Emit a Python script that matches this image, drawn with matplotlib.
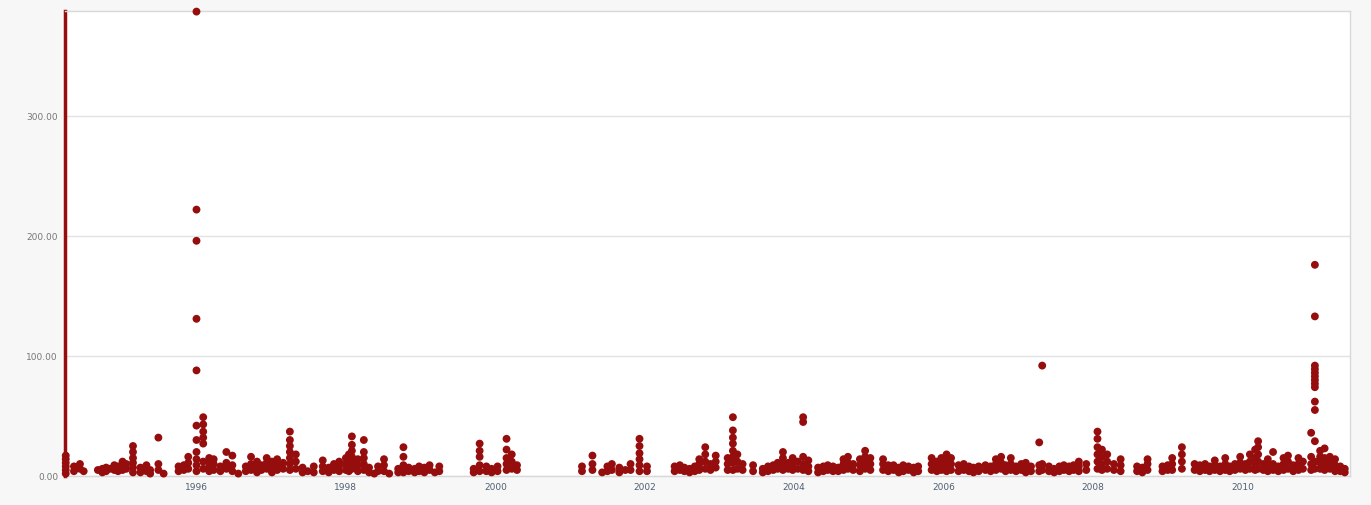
import matplotlib
matplotlib.use('Agg')
import matplotlib.pyplot as plt
import numpy as np

# decimal year of each column of observations, and the values stacked in it
col_year = [1994.25, 1994.36, 1994.44, 1994.49, 1994.68, 1994.74, 1994.79, 1994.84, 1994.90, 1994.95,
            1995.01, 1995.06, 1995.15, 1995.25, 1995.33, 1995.38, 1995.49, 1995.56, 1995.76, 1995.83,
            1995.89, 1996.00, 1996.09, 1996.17, 1996.23, 1996.32, 1996.40, 1996.48, 1996.56, 1996.66,
            1996.73, 1996.81, 1996.87, 1996.94, 1997.01, 1997.08, 1997.16, 1997.25, 1997.33, 1997.42,
            1997.49, 1997.57, 1997.69, 1997.77, 1997.84, 1997.91, 1998.00, 1998.04, 1998.08, 1998.16,
            1998.24, 1998.31, 1998.38, 1998.43, 1998.51, 1998.58, 1998.70, 1998.77, 1998.84, 1998.92,
            1998.98, 1999.05, 1999.12, 1999.19, 1999.25, 1999.71, 1999.79, 1999.88, 1999.95, 2000.03,
            2000.15, 2000.22, 2000.29, 2001.16, 2001.30, 2001.43, 2001.50, 2001.56, 2001.66, 2001.74,
            2001.81, 2001.93, 2002.03, 2002.40, 2002.47, 2002.53, 2002.60, 2002.67, 2002.73, 2002.81,
            2002.88, 2002.95, 2003.11, 2003.18, 2003.24, 2003.31, 2003.45, 2003.58, 2003.65, 2003.72,
            2003.78, 2003.85, 2003.92, 2003.98, 2004.05, 2004.12, 2004.19, 2004.32, 2004.39, 2004.45,
            2004.52, 2004.59, 2004.66, 2004.72, 2004.79, 2004.88, 2004.95, 2005.02, 2005.19, 2005.26,
            2005.33, 2005.40, 2005.46, 2005.53, 2005.60, 2005.66, 2005.84, 2005.91, 2005.97, 2006.04,
            2006.10, 2006.20, 2006.27, 2006.34, 2006.40, 2006.47, 2006.56, 2006.63, 2006.70, 2006.77,
            2006.83, 2006.90, 2006.97, 2007.04, 2007.10, 2007.17, 2007.28, 2007.32, 2007.41, 2007.48,
            2007.55, 2007.61, 2007.68, 2007.74, 2007.81, 2007.91, 2008.06, 2008.12, 2008.19, 2008.28,
            2008.37, 2008.59, 2008.66, 2008.73, 2008.93, 2009.00, 2009.06, 2009.19, 2009.36, 2009.43,
            2009.50, 2009.56, 2009.63, 2009.70, 2009.77, 2009.83, 2009.90, 2009.97, 2010.04, 2010.10,
            2010.17, 2010.21, 2010.28, 2010.34, 2010.41, 2010.48, 2010.55, 2010.61, 2010.68, 2010.75,
            2010.81, 2010.92, 2010.97, 2011.04, 2011.10, 2011.17, 2011.24, 2011.31, 2011.37]

col_values = [[2, 5, 8, 11, 14, 17], [4, 8], [6, 10], [4], [5], [3, 6], [4, 7], [6], [5, 9], [4, 8],
              [5, 9, 12], [6, 10], [3, 7, 11, 15, 20, 25], [3, 7], [4, 9], [2, 5], [5, 10, 32], [2], [4, 8], [5, 9],
              [6, 11, 16], [4, 9, 14, 20, 30, 42, 88, 131, 196, 222, 387], [6, 12, 27, 32, 37, 43, 49],
              [4, 8, 12, 15], [5, 10, 14], [4, 8], [6, 11, 20], [4, 9, 17], [2], [4, 8],
              [5, 10, 16], [3, 8, 12], [5, 9], [6, 11, 15], [3, 7, 12], [5, 9, 14], [6, 11],
              [5, 10, 15, 20, 25, 30, 37], [6, 12, 18], [3, 7],
              [4], [3, 8], [4, 8, 13], [3, 7], [5, 10], [4, 8, 12], [5, 10, 15], [4, 8, 13, 18],
              [6, 11, 16, 21, 26, 33], [4, 9, 14],
              [5, 10, 15, 20, 30], [3, 7], [2], [4, 8], [4, 9, 14], [2], [3, 6], [3, 9, 16, 24], [4, 7], [3, 6],
              [4, 8], [3, 7], [5, 9], [3], [4, 8], [3, 6], [4, 9, 16, 21, 27], [4, 8], [3, 6], [4, 8],
              [5, 10, 15, 22, 31], [6, 12, 18], [5, 9], [4, 8], [5, 10, 17], [3], [4, 8], [5, 10], [3, 7], [5],
              [5, 10], [4, 9, 14, 19, 25, 31], [4, 8], [4, 8], [5, 9], [4, 7], [3, 6], [4, 8], [5, 10, 14],
              [6, 12, 18, 24],
              [5, 10], [7, 12, 17], [5, 10, 15], [5, 11, 16, 21, 27, 32, 38, 49], [6, 12, 18], [5, 10], [4, 9],
              [3, 6], [4, 8], [5, 9],
              [6, 11], [5, 10, 15, 20], [6, 11], [5, 10, 15], [6, 12], [5, 10, 16, 45, 49], [4, 8, 13], [3, 7],
              [4, 8], [5, 9],
              [4, 8], [4, 7], [5, 10, 14], [6, 11, 16], [5, 10], [4, 9, 14], [6, 11, 16, 21], [5, 10, 15],
              [5, 10, 14], [4, 9],
              [5, 9], [3, 7], [4, 9], [5, 8], [3, 7], [4, 8], [5, 10, 15], [4, 8, 12], [5, 10, 15], [4, 9, 14, 18],
              [5, 10, 15], [4, 9], [5, 10], [4, 8], [3, 7], [4, 8], [5, 9], [4, 8], [5, 10, 14], [6, 11, 16],
              [4, 9], [5, 10, 15], [4, 8], [5, 10], [3, 7, 11], [4, 8], [4, 9, 28], [5, 10, 92], [4, 8], [3, 6],
              [4, 8], [5, 9], [4, 8], [5, 9], [4, 8, 12], [5, 10], [6, 12, 18, 24, 31, 37], [5, 10, 16, 22],
              [6, 12, 18], [5, 10],
              [4, 9, 14], [4, 8], [3, 7], [5, 10, 14], [4, 8], [5, 9], [5, 10, 15], [6, 12, 18, 24], [5, 10], [4, 9],
              [5, 10], [4, 8], [5, 9, 13], [4, 8], [5, 10, 15], [4, 8], [5, 10], [6, 11, 16], [5, 10], [6, 12, 18],
              [5, 10, 15, 22], [6, 12, 18, 24, 29], [5, 10], [4, 9, 14], [5, 10, 20], [4, 8], [5, 10, 15],
              [6, 12, 17], [4, 9], [5, 10, 15],
              [6, 12], [5, 10, 16, 36], [6, 12, 29, 55, 62, 74, 77, 80, 83, 86, 89, 92, 133, 176],
              [6, 11, 16, 21], [5, 10, 15, 23], [6, 11, 16], [4, 9, 14], [4, 8], [3, 6]]

y_ticks = [0, 100, 200, 300]
x_ticks = [1996, 1998, 2000, 2002, 2004, 2006, 2008, 2010]

xs = []
ys = []
for yr, vals in zip(col_year, col_values):
    for v in vals:
        xs.append(yr)
        ys.append(v)

dot_color = '#950d0d'

fig = plt.figure(figsize=(13.71, 5.06), dpi=100, facecolor='#f7f7f7')
ax = fig.add_axes([65/1371, 29/506, 1285/1371, 465/506])
ax.set_facecolor('white')

ax.scatter(xs, ys, s=32, color=dot_color, edgecolors='none', zorder=3, clip_on=False)

ax.set_xlim(1994.24, 2011.44)
ax.set_ylim(0, 387.5)
ax.set_yticks(y_ticks)
ax.set_yticklabels(['%.2f' % t for t in y_ticks])
ax.set_xticks(x_ticks)
ax.set_xticklabels([str(t) for t in x_ticks])
ax.tick_params(length=0, labelsize=6.5, colors='#777777')
ax.tick_params(axis='x', pad=4, labelcolor='#4f5f70')
ax.tick_params(axis='y', pad=5)

ax.grid(axis='y', color='#e2e2e2', linewidth=1)
ax.set_axisbelow(True)

for side in ['top', 'right', 'bottom']:
    ax.spines[side].set_color('#d8d8d8')
    ax.spines[side].set_linewidth(1)
ax.spines['left'].set_color(dot_color)
ax.spines['left'].set_linewidth(2.5)

plt.savefig('out.png', dpi=100, facecolor=fig.get_facecolor())
